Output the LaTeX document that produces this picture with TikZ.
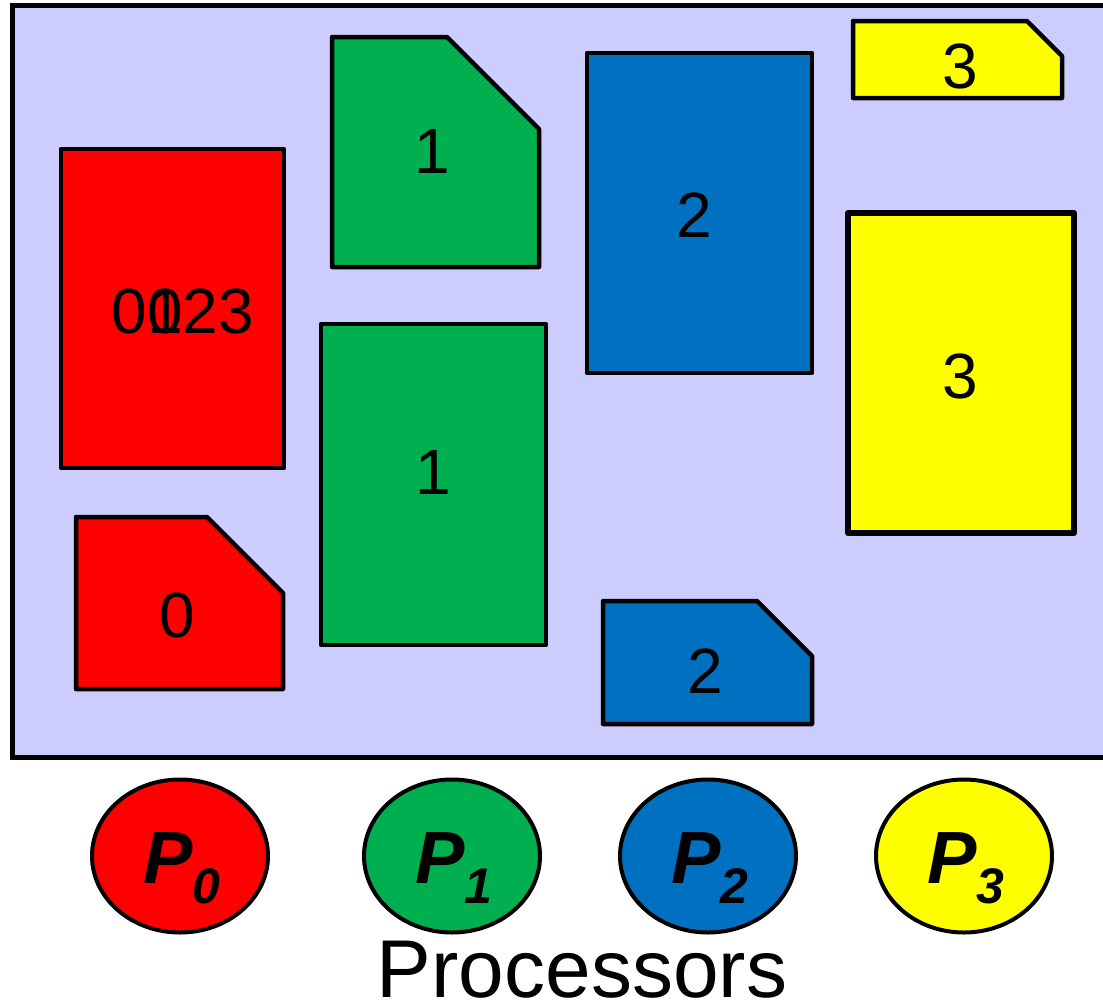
\documentclass[tikz,border=0pt]{standalone}
\usepackage{fontspec}
\setmainfont{Liberation Sans}
\usetikzlibrary{shapes.geometric}
\definecolor{memfill}{HTML}{CCCCFF}
\definecolor{cpuRed}{HTML}{FF0000}
\definecolor{cpuGreen}{HTML}{00B050}
\definecolor{cpuBlue}{HTML}{0070C0}
\definecolor{cpuYellow}{HTML}{FFFF00}
\newcommand{\cpusub}[1]{\raisebox{-20pt}{\fontsize{50}{50}\selectfont #1}}
\tikzset{
  memory/.style={draw=black, line width=5pt, fill=memfill},
  block/.style={draw=black, line width=4.5pt, line join=round},
  digit/.style={anchor=base, inner sep=0pt, font=\fontsize{64}{64}\selectfont},
  cpu/.style={draw=black, line width=4pt, ellipse, minimum width=176pt,
              minimum height=153pt, inner sep=0pt},
  cpulabel/.style={anchor=base west, inner sep=0pt,
                   font=\fontsize{74}{74}\selectfont\bfseries\itshape},
}
\begin{document}
\begin{tikzpicture}[x=1pt,y=-1pt]
\useasboundingbox (0,0) rectangle (1103,1004);

% shared memory area
\draw[memory] (12,5) rectangle (1130,757);

% memory blocks owned by P0
\draw[block, fill=cpuRed] (61,149) rectangle (284,468);
\draw[block, fill=cpuRed] (76,517) -- (207,517) -- (283,593) -- (283,689) -- (76,689) -- cycle;
% memory blocks owned by P1
\draw[block, fill=cpuGreen] (332,37) -- (447,37) -- (539,129) -- (539,267) -- (332,267) -- cycle;
\draw[block, fill=cpuGreen] (321,324) rectangle (546,645);
% memory blocks owned by P2
\draw[block, fill=cpuBlue] (587,53) rectangle (812,373);
\draw[block, fill=cpuBlue] (603,601) -- (757,601) -- (812,656) -- (812,724) -- (603,724) -- cycle;
% memory blocks owned by P3
\draw[block, fill=cpuYellow] (853,21) -- (1027,21) -- (1062,56) -- (1062,98) -- (853,98) -- cycle;
\draw[block, fill=cpuYellow, line width=6pt] (848,213) rectangle (1074,533);

% block labels
\node[digit] (lblA) at (183,333) {0123};
\node[digit] (lblB) at (165,333) {0};
\node[digit] (lblC) at (177,637) {0};
\node[digit] (lblD) at (432,173) {1};
\node[digit] (lblE) at (433,494) {1};
\node[digit] (lblF) at (694,237) {2};
\node[digit] (lblG) at (705,693) {2};
\node[digit] (lblH) at (960,88) {3};
\node[digit] (lblI) at (960,398) {3};

% processors
\node[cpu, fill=cpuRed]    (p0) at (180,856) {};
\node[cpu, fill=cpuGreen]  (p1) at (452,856) {};
\node[cpu, fill=cpuBlue]   (p2) at (708,856) {};
\node[cpu, fill=cpuYellow] (p3) at (964,856) {};

\node[cpulabel] (t0) at (143,883) {P\cpusub{0}};
\node[cpulabel] (t1) at (415,883) {P\cpusub{1}};
\node[cpulabel] (t2) at (671,883) {P\cpusub{2}};
\node[cpulabel] (t3) at (927,883) {P\cpusub{3}};

\node[anchor=base, inner sep=0pt, font=\fontsize{82}{82}\selectfont] (procs) at (582,997) {Processors};
\end{tikzpicture}
\end{document}
